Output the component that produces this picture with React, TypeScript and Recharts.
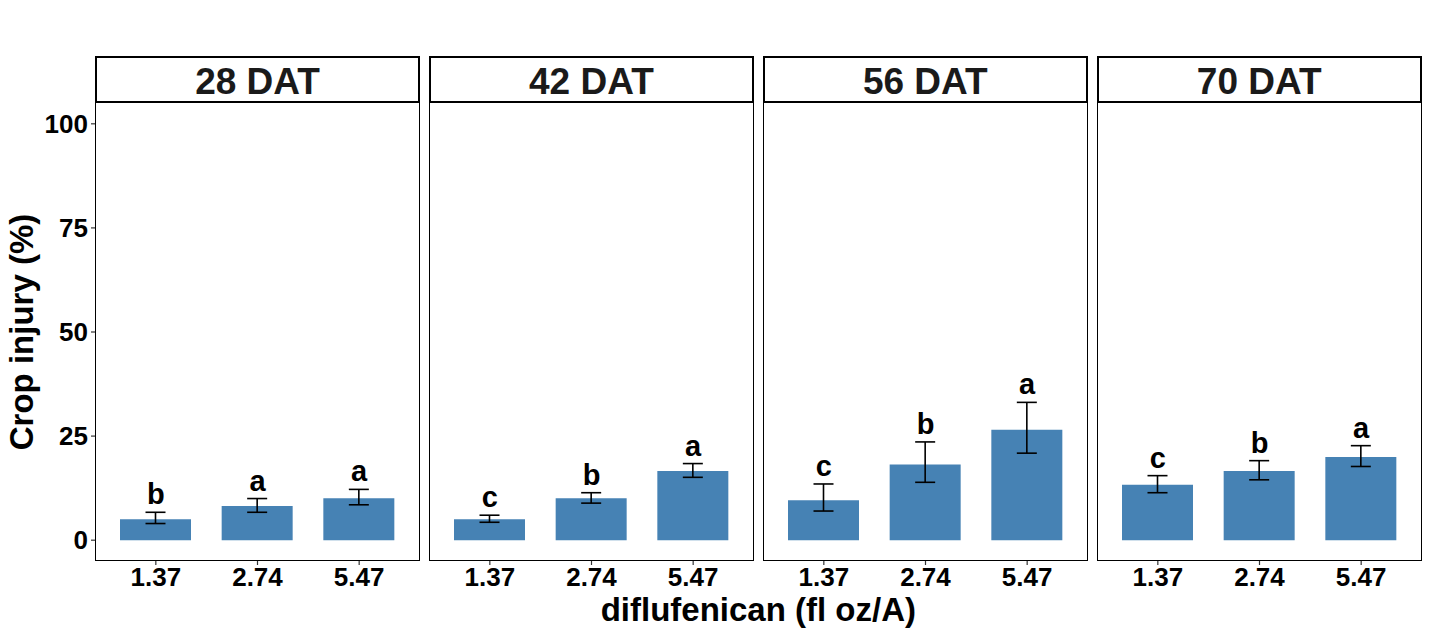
import { ComposedChart, Bar, Line, XAxis, YAxis, ErrorBar, LabelList, Label } from 'recharts';

const rates = ['1.37', '2.74', '5.47'];
const timings = ['28 DAT', '42 DAT', '56 DAT', '70 DAT'];

// mean crop injury (%) per timing
const injury28 = [5.0, 8.2, 10.1];
const injury42 = [5.0, 10.1, 16.6];
const injury56 = [9.6, 18.2, 26.5];
const injury70 = [13.3, 16.6, 20.0];

// error bar ends
const low28 = [4.0, 6.7, 8.5];
const low42 = [4.3, 8.9, 15.1];
const low56 = [7.0, 13.9, 20.9];
const low70 = [11.4, 14.5, 17.7];

const high28 = [6.7, 10.0, 12.2];
const high42 = [6.0, 11.4, 18.4];
const high56 = [13.5, 23.6, 33.1];
const high70 = [15.5, 19.1, 22.7];

// mean separation letters
const letters28 = ['b', 'a', 'a'];
const letters42 = ['c', 'b', 'a'];
const letters56 = ['c', 'b', 'a'];
const letters70 = ['c', 'b', 'a'];

const yTicks = [0, 25, 50, 75, 100];

const means = [injury28, injury42, injury56, injury70];
const lows = [low28, low42, low56, low70];
const highs = [high28, high42, high56, high70];
const letters = [letters28, letters42, letters56, letters70];

const FONT = '"Liberation Sans", Arial, sans-serif';
const BAR = '#4682B4';
const PANEL_LEFT = 95;
const PANEL_STEP = 333.9;
const PANEL_W = 325;
const PLOT_TOP = 103;
const PLOT_H = 458;
const AXIS_W = 95;

const buildRows = (i: number) =>
  rates.map((rate, j) => ({
    rate,
    injury: means[i][j],
    err: [means[i][j] - lows[i][j], highs[i][j] - means[i][j]],
    top: highs[i][j],
    letter: letters[i][j],
  }));

const Panel = ({ index }: { index: number }) => {
  const first = index === 0;
  const left = PANEL_LEFT + index * PANEL_STEP;
  const rows = buildRows(index);
  return (
    <>
      <div
        style={{
          position: 'absolute',
          left,
          top: 56,
          width: PANEL_W,
          height: 47,
          boxSizing: 'border-box',
          border: '2px solid #000',
          background: '#fff',
          textAlign: 'center',
          fontSize: 37,
          fontWeight: 'bold',
          lineHeight: '43px',
          paddingTop: 2,
          color: '#1a1a1a',
        }}
      >
        {timings[index]}
      </div>
      <div style={{ position: 'absolute', left: first ? left - AXIS_W : left, top: PLOT_TOP }}>
        <ComposedChart
          width={PANEL_W + (first ? AXIS_W : 0)}
          height={532}
          data={rows}
          margin={{ top: 0, right: 0, bottom: 0, left: 0 }}
        >
          <XAxis
            dataKey="rate"
            interval={0}
            padding={{ left: 10, right: 10 }}
            height={532 - PLOT_H}
            axisLine={false}
            tickLine={{ stroke: '#333', strokeWidth: 1.2 }}
            tickSize={4}
            tickMargin={3}
            tick={{ fill: '#000', fontSize: 26, fontWeight: 'bold', fontFamily: FONT }}
          />
          <YAxis
            hide={!first}
            width={AXIS_W}
            domain={[-5, 105]}
            ticks={yTicks}
            interval={0}
            axisLine={false}
            tickLine={{ stroke: '#333', strokeWidth: 1.2 }}
            tickSize={4}
            tickMargin={3}
            tick={{ fill: '#000', fontSize: 26, fontWeight: 'bold', fontFamily: FONT }}
          >
            {first && (
              <Label
                content={(props: any) => {
                  const vb = props.viewBox || {};
                  const cy = (vb.y ?? 0) + (vb.height ?? PLOT_H) / 2;
                  return (
                    <text
                      x={33}
                      y={cy}
                      transform={`rotate(-90, 33, ${cy})`}
                      textAnchor="middle"
                      fontSize={33}
                      fontWeight="bold"
                      fontFamily={FONT}
                      fill="#000"
                    >
                      Crop injury (%)
                    </text>
                  );
                }}
              />
            )}
          </YAxis>
          <Bar dataKey="injury" fill={BAR} barSize={71} isAnimationActive={false}>
            <ErrorBar dataKey="err" width={10} stroke="#000" strokeWidth={1.6} isAnimationActive={false} />
          </Bar>
          <Line dataKey="top" stroke="none" dot={false} activeDot={false} isAnimationActive={false}>
            <LabelList
              dataKey="letter"
              position="top"
              offset={8}
              fill="#000"
              fontSize={29}
              fontWeight="bold"
              fontFamily={FONT}
            />
          </Line>
        </ComposedChart>
      </div>
      <div
        style={{
          position: 'absolute',
          left,
          top: PLOT_TOP - 1,
          width: PANEL_W,
          height: PLOT_H + 1,
          boxSizing: 'border-box',
          border: '1.5px solid #000',
          pointerEvents: 'none',
        }}
      />
    </>
  );
};

const App = () => {
  return (
    <div
      style={{
        position: 'absolute',
        left: 0,
        top: 0,
        width: 1430,
        height: 635,
        background: '#fff',
        fontFamily: FONT,
        overflow: 'hidden',
      }}
    >
      {timings.map((t, i) => (
        <Panel key={t} index={i} />
      ))}
      <div
        style={{
          position: 'absolute',
          left: PANEL_LEFT,
          top: 593,
          width: 3 * PANEL_STEP + PANEL_W,
          textAlign: 'center',
          fontSize: 33,
          fontWeight: 'bold',
          lineHeight: '33px',
          color: '#000',
        }}
      >
        diflufenican (fl oz/A)
      </div>
    </div>
  );
};

export default App;
